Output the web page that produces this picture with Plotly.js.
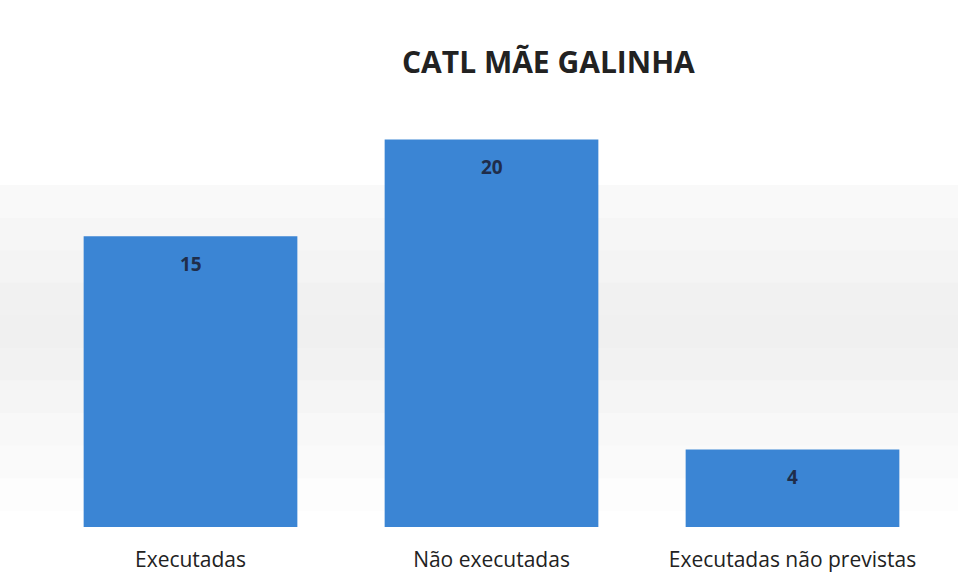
<!DOCTYPE html>
<html>
<head>
<meta charset="utf-8">
<script src="https://cdn.plot.ly/plotly-3.0.1.min.js"></script>
<style>
  html, body { margin: 0; padding: 0; background: #fff; }
  #chart { width: 958px; height: 580px; }
</style>
</head>
<body>
<div id="chart"></div>
<script>
// chart data
const categories = ['Executadas', 'Não executadas', 'Executadas não previstas'];
const values = [15, 20, 4];
const chartTitle = 'CATL MÃE GALINHA';

// grey band behind the bars (built as layered translucent strips)
var bandShapes = [];
var bandSteps = [0.04, 0.12, 0.20, 0.28, 0.36, 0.44, 0.52, 0.60, 0.68, 0.76];
for (let i = 0; i < bandSteps.length; i++) {
  let d = Math.abs(bandSteps[i] - 0.46);
  bandShapes.push({
    type: 'rect', xref: 'paper', yref: 'paper', layer: 'below',
    x0: -0.05, x1: 1.02, y0: bandSteps[i], y1: bandSteps[i] + 0.08,
    fillcolor: '#d3d3d3', opacity: Math.max(0.04, 0.36 - d * 0.75),
    line: { width: 0 }
  });
}

// value labels sit a little below the top of each bar
var valueLabels = values.map(function(v, i) {
  return {
    x: categories[i], y: v, yshift: -28,
    text: '<b>' + v + '</b>', showarrow: false,
    font: { family: 'Open Sans, sans-serif', size: 19, color: '#1f2d4a' }
  };
});

var trace = {
  type: 'bar',
  x: categories,
  y: values,
  width: 0.71,
  marker: { color: '#3b85d4', line: { width: 0 } },
  hoverinfo: 'x+y'
};

var layout = {
  width: 958, height: 580,
  margin: { l: 40, r: 15, t: 120, b: 53 },
  paper_bgcolor: '#ffffff',
  plot_bgcolor: 'rgba(0,0,0,0)',
  title: {
    text: '<b>' + chartTitle + '</b>',
    x: 0.563, xanchor: 'center', xref: 'paper',
    y: 0.893, yanchor: 'middle', yref: 'container',
    font: { family: 'Open Sans, sans-serif', size: 30, color: '#222222' }
  },
  xaxis: {
    showline: false, showgrid: false, zeroline: false, ticks: '',
    ticklabelstandoff: 18,
    tickfont: { family: 'Open Sans, sans-serif', size: 21, color: '#222222' }
  },
  yaxis: {
    range: [0, 21], visible: false, showgrid: false, zeroline: false
  },
  shapes: bandShapes,
  annotations: valueLabels,
  showlegend: false
};

Plotly.newPlot('chart', [trace], layout, { displayModeBar: false, staticPlot: true });
</script>
</body>
</html>
